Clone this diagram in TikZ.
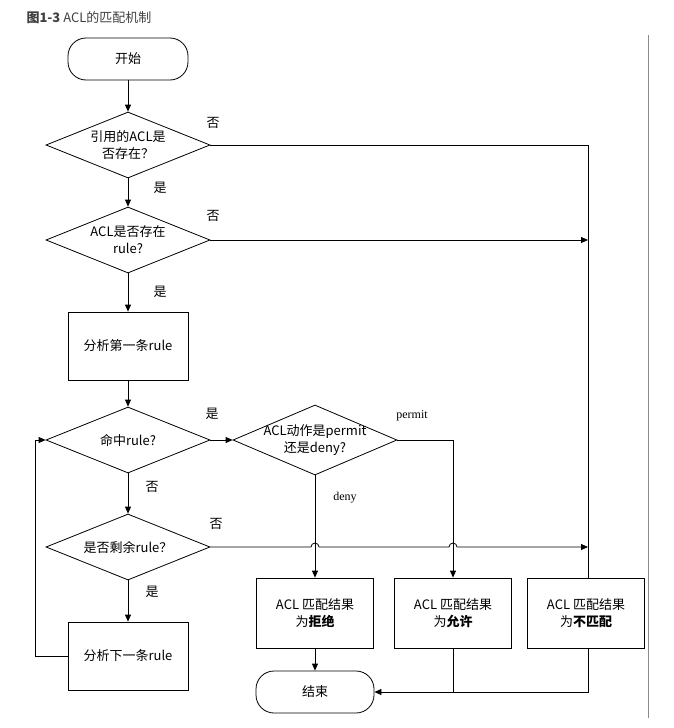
\documentclass[tikz,border=0pt]{standalone}
\usepackage{fontspec}
\setmainfont{Liberation Serif}
\newfontfamily\cjk{Noto Sans CJK SC}
\usetikzlibrary{arrows.meta,shapes.geometric}
\begin{document}
\begin{tikzpicture}[x=1pt,y=-1pt,
  every node/.style={font=\cjk\fontsize{13}{17}\selectfont},
  ln/.style={draw=black,line width=0.8pt},
  ar/.style={ln,-{Triangle[length=7pt,width=6pt]}},
  dia/.style={ln,diamond,aspect=2.5,inner sep=0pt,minimum width=164pt,minimum height=66pt,align=center},
  boxn/.style={ln,rectangle,minimum width=120pt,minimum height=68pt,align=center},
  rbox/.style={ln,rectangle,minimum width=117pt,minimum height=70pt,align=center},
  term/.style={ln,rectangle,rounded corners=18pt,minimum width=120pt,minimum height=42pt},
  lbl/.style={font=\cjk\fontsize{13}{15}\selectfont}]
\useasboundingbox (0,0) rectangle (673,728);
\node[anchor=west,text=black!75,font=\cjk\fontsize{13}{15}\selectfont] (title) at (23,18) {\textbf{图1-3} ACL的匹配机制};
\draw[black!45,line width=0.8pt] (648,35) coordinate (bt) -- (648,718) coordinate (bb);

\node[term] (start) at (128,59) {开始};
\node[dia] (d1) at (128,145) {引用的ACL是\\否存在？};
\node[dia] (d2) at (128,240) {ACL是否存在\\rule?};
\node[boxn] (b1) at (128,346) {分析第一条rule};
\node[dia] (d3) at (128,440) {命中rule?};
\node[dia,inner sep=-10pt,minimum width=164pt,minimum height=70pt] (d4) at (315,440) {ACL动作是permit\\还是deny?};
\node[dia] (d5) at (128,547) {是否剩余rule？};
\node[boxn] (b2) at (128,656) {分析下一条rule};
\node[rbox] (rd) at (315,613) {ACL 匹配结果\\为\textbf{拒绝}};
\node[rbox] (rp) at (453,613) {ACL 匹配结果\\为\textbf{允许}};
\node[rbox] (rn) at (586,613) {ACL 匹配结果\\为\textbf{不匹配}};
\node[term,minimum width=118pt] (end) at (315,692) {结束};

\coordinate (c1) at (588,145);
\coordinate (c2) at (588,240);
\coordinate (c3) at (588,547);
\coordinate (cp) at (453,440);
\coordinate (j1) at (453,692);
\coordinate (j2) at (588,692);
\coordinate (l1) at (35,656);
\coordinate (l2) at (35,440);

\draw[ar] (start) -- (d1);
\draw[ar] (d1) -- (d2);
\draw[ar] (d2) -- (b1);
\draw[ar] (b1) -- (d3);
\draw[ar] (d3) -- (d5);
\draw[ar] (d5) -- (b2);
\draw[ln] (d1.east) -- (c1) -- (rn.north -| c1);
\draw[ar] (d2.east) -- (c2);
\draw[ar] (d3.east) -- (d4.west);
\draw[ar] (d4.south) -- (rd.north);
\draw[ar] (d4.east) -- (cp) -- (rp.north);
\draw[ar] (d5.east) -- (311,547) arc (180:360:4) -- (449,547) arc (180:360:4) -- (c3);
\draw[ar] (b2.west) -- (l1) -- (l2) -- (d3.west);
\draw[ar] (rd) -- (end);
\draw[ln] (rp.south) -- (j1);
\draw[ar] (rn.south -| j2) -- (j2) -- (end.east);

\node[lbl] (n1) at (213,123) {否};
\node[lbl] (y1) at (160,188) {是};
\node[lbl] (n2) at (213,216) {否};
\node[lbl] (y2) at (160,292) {是};
\node[lbl] (y3) at (212,414) {是};
\node[lbl] (n3) at (152,487) {否};
\node[lbl] (n4) at (216,524) {否};
\node[lbl] (y4) at (152,592) {是};
\node[font=\rmfamily\fontsize{12}{14}\selectfont] (pm) at (412,416) {permit};
\node[font=\rmfamily\fontsize{12}{14}\selectfont] (dn) at (345,498) {deny};
\end{tikzpicture}
\end{document}
